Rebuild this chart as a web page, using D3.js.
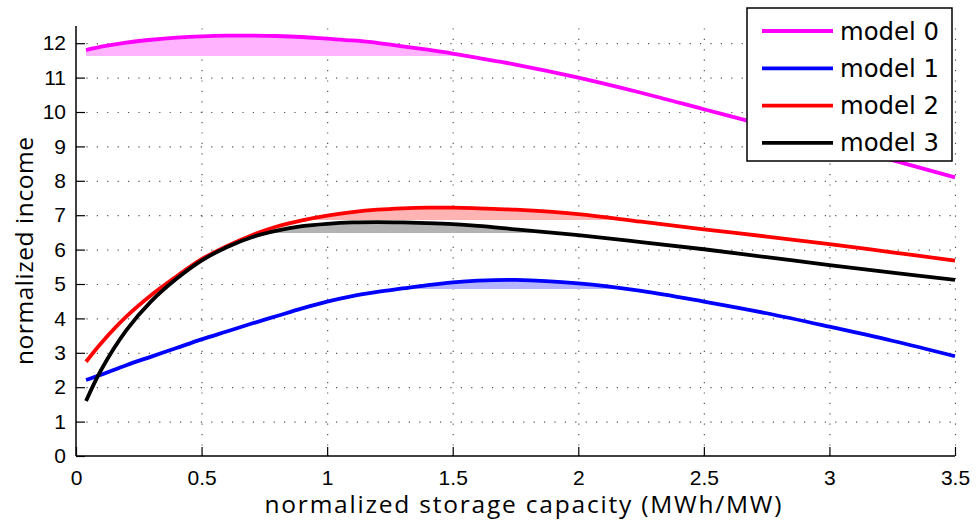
<!DOCTYPE html>
<html><head><meta charset="utf-8">
<script src="https://cdn.jsdelivr.net/npm/d3@7"></script>
<style>
html,body{margin:0;padding:0;background:#fff;}
svg{display:block;}
</style></head>
<body>
<svg id="chart" width="977" height="525"></svg>
<script>
// ---- data ----
const xValues = [0.04,0.1,0.2,0.3,0.4,0.5,0.6,0.7,0.8,0.9,1.0,1.1,1.2,1.3,1.4,1.5,1.6,1.75,2.0,2.25,2.5,2.75,3.0,3.25,3.5];
const model0 = [11.8,11.9,12.02,12.1,12.16,12.2,12.22,12.22,12.21,12.18,12.13,12.08,12.01,11.91,11.81,11.7,11.57,11.38,11.0,10.56,10.08,9.6,9.1,8.6,8.1];
const model1 = [2.21,2.36,2.64,2.89,3.14,3.39,3.62,3.85,4.07,4.29,4.49,4.65,4.77,4.87,4.97,5.05,5.1,5.12,5.02,4.8,4.49,4.15,3.76,3.35,2.9];
const model2 = [2.74,3.28,4.05,4.68,5.22,5.72,6.1,6.42,6.67,6.85,6.99,7.09,7.16,7.2,7.22,7.22,7.2,7.16,7.03,6.81,6.59,6.38,6.16,5.92,5.68];
const model3 = [1.6,2.5,3.65,4.5,5.15,5.68,6.07,6.36,6.55,6.68,6.75,6.79,6.8,6.79,6.77,6.74,6.69,6.59,6.42,6.22,6.01,5.78,5.55,5.33,5.12];
const seriesNames = ["model 0","model 1","model 2","model 3"];
const seriesColors = ["#ff00ff","#0000ff","#ff0000","#000000"];
const fillColors = ["#ffb3ff","#b3b3ff","#ffb3b3","#b3b3b3"];
const thresholds = [11.63,4.86,6.86,6.47];
const xTicks = [0,0.5,1,1.5,2,2.5,3,3.5];
const yTicks = [0,1,2,3,4,5,6,7,8,9,10,11,12];
const xLabel = "normalized storage capacity (MWh/MW)";
const yLabel = "normalized income";

const allSeries = [model0, model1, model2, model3];

const svg = d3.select("#chart");
const pLeft = 76, pRight = 955, pTop = 26, pBottom = 456;
const x = d3.scaleLinear().domain([0,3.5]).range([pLeft,pRight]);
const y = d3.scaleLinear().domain([0,12.5]).range([pBottom,pTop]);

// grid
const grid = svg.append("g").attr("stroke","#555").attr("stroke-width",1.2).attr("stroke-dasharray","1.2,9.2");
grid.selectAll(".gy").data(yTicks.filter(d=>d>0)).enter().append("line")
  .attr("x1",pLeft).attr("x2",pRight).attr("y1",d=>y(d)+0.5).attr("y2",d=>y(d)+0.5);
grid.selectAll(".gx").data(xTicks.filter(d=>d>0)).enter().append("line")
  .attr("y1",pBottom).attr("y2",pTop).attr("x1",d=>x(d)+0.5).attr("x2",d=>x(d)+0.5);

const curve = d3.curveCatmullRom.alpha(0.5);

// fills (area between curve and threshold, clipped above threshold)
const defs = svg.append("defs");
allSeries.forEach((vals,i)=>{
  const pts = xValues.map((xv,k)=>[xv, vals[k]]);
  const ty = Math.round(y(thresholds[i]));
  defs.append("clipPath").attr("id","clip"+i).append("rect")
    .attr("x",pLeft).attr("y",0).attr("width",pRight-pLeft).attr("height",ty);
  const area = d3.area().x(d=>x(d[0])).y0(ty).y1(d=>y(d[1])).curve(curve);
  svg.append("path").attr("d",area(pts)).attr("fill",fillColors[i])
    .attr("shape-rendering","crispEdges").attr("clip-path","url(#clip"+i+")");
});

// lines
allSeries.forEach((vals,i)=>{
  const pts = xValues.map((xv,k)=>[xv, vals[k]]);
  const line = d3.line().x(d=>x(d[0])).y(d=>y(d[1])).curve(curve);
  svg.append("path").attr("d",line(pts)).attr("fill","none")
    .attr("stroke",seriesColors[i]).attr("stroke-width",3.8).attr("stroke-linejoin","round");
});

// axes
const xAxis = d3.axisBottom(x).tickValues(xTicks).tickSizeInner(-9).tickSizeOuter(0).tickPadding(14)
  .tickFormat(d=>d3.format("")(d));
const gx = svg.append("g").attr("transform",`translate(0,${pBottom})`).call(xAxis);
const yAxis = d3.axisLeft(y).tickValues(yTicks).tickSizeInner(-9).tickSizeOuter(0).tickPadding(10);
const gy = svg.append("g").attr("transform",`translate(${pLeft},0)`).call(yAxis);
[gx,gy].forEach(g=>{
  g.select(".domain").attr("stroke","#000").attr("stroke-width",1.5);
  g.selectAll(".tick line").attr("stroke","#000").attr("stroke-width",1.2);
  g.selectAll("text").attr("font-family","'Liberation Sans', Arial, sans-serif").attr("font-size",21).attr("fill","#000");
});
gy.select(".domain").attr("d",`M0,${pBottom}V${pTop}`);
gx.select(".domain").attr("d",`M${pLeft},0H${pRight}`);

// axis labels
svg.append("text").attr("x",523).attr("y",513).attr("text-anchor","middle")
  .attr("font-family","'Open Sans', sans-serif").attr("font-size",24.5)
  .attr("textLength",517).attr("lengthAdjust","spacing").text(xLabel);
svg.append("text").attr("transform","translate(33,251) rotate(-90)").attr("text-anchor","middle")
  .attr("font-family","'Open Sans', sans-serif").attr("font-size",24.5)
  .attr("textLength",228).attr("lengthAdjust","spacing").text(yLabel);

// legend
const lg = svg.append("g");
lg.append("rect").attr("x",747).attr("y",8).attr("width",205).attr("height",153)
  .attr("fill","#fff").attr("stroke","#000").attr("stroke-width",1.5);
seriesNames.forEach((n,i)=>{
  const yy = 31 + i*37.3;
  lg.append("line").attr("x1",762).attr("x2",833).attr("y1",yy).attr("y2",yy)
    .attr("stroke",seriesColors[i]).attr("stroke-width",3.8);
  lg.append("text").attr("x",840).attr("y",yy+8.5).attr("font-family","'DejaVu Sans', sans-serif")
    .attr("font-size",24.3).attr("fill","#000").text(n);
});
</script>
</body></html>
